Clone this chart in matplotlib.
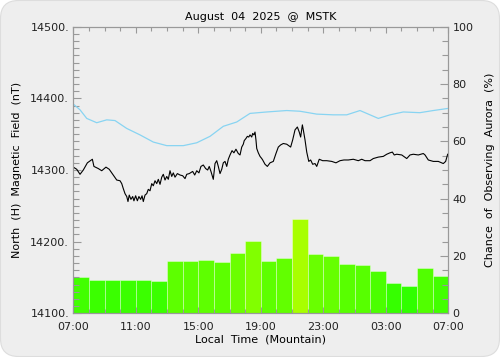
import numpy as np
import matplotlib
matplotlib.use("Agg")
import matplotlib.pyplot as plt
import matplotlib.patches as mpatches
from matplotlib.colors import LinearSegmentedColormap
from matplotlib.ticker import MultipleLocator

# hours since 07:00 local, and field in nT
h_time = [0.00, 0.22, 0.43, 0.64, 0.90, 1.22, 1.32, 1.60, 1.82, 2.09, 2.30, 2.52,
          2.78, 2.99, 3.10, 3.20, 3.31, 3.42, 3.50, 3.58, 3.69, 3.80, 3.88, 3.99,
          4.10, 4.20, 4.31, 4.40, 4.48, 4.59, 4.70, 4.80, 4.91, 5.02, 5.12, 5.23,
          5.34, 5.44, 5.55, 5.66, 5.76, 5.87, 5.98, 6.08, 6.19, 6.30, 6.40, 6.51,
          6.66, 6.83, 7.00, 7.15, 7.26, 7.42, 7.64, 7.77, 7.90, 8.04, 8.17, 8.32,
          8.47, 8.60, 8.70, 8.81, 8.96, 9.07, 9.18, 9.28, 9.39, 9.50, 9.60, 9.71,
          9.82, 9.92, 10.03, 10.16, 10.28, 10.41, 10.56, 10.67, 10.78, 10.88, 10.94,
          11.05, 11.14, 11.23, 11.31, 11.42, 11.48, 11.56, 11.63, 11.69, 11.74,
          11.84, 11.95, 12.06, 12.12,
          12.27, 12.42, 12.59, 12.80, 12.97, 13.12, 13.27, 13.44, 13.66, 13.91,
          14.04, 14.19, 14.34, 14.46, 14.55, 14.66, 14.72, 14.83, 14.94, 15.07,
          15.19, 15.32, 15.47, 15.58, 15.74, 15.96, 16.22, 16.54, 16.81, 17.07,
          17.32, 17.60, 17.92, 18.24, 18.46, 18.67, 18.99, 19.20, 19.52, 19.84,
          20.06, 20.27, 20.42, 20.54, 20.70, 21.02, 21.34, 21.55, 21.76, 22.08,
          22.40, 22.51, 22.72, 23.04, 23.36, 23.68, 23.83, 23.96]
h_field = [14304, 14301, 14294, 14300, 14310, 14315, 14305, 14302, 14299, 14304, 14301, 14294,
           14286, 14285, 14281, 14274, 14267, 14263, 14256, 14265, 14259, 14263, 14257, 14264,
           14257, 14263, 14259, 14264, 14256, 14265, 14267, 14273, 14271, 14281, 14278, 14285,
           14281, 14287, 14280, 14290, 14294, 14286, 14291, 14287, 14299, 14291, 14296, 14290,
           14295, 14293, 14292, 14288, 14294, 14295, 14298, 14293, 14299, 14296, 14305, 14307,
           14302, 14300, 14305, 14298, 14287, 14309, 14313, 14305, 14295, 14301, 14310, 14312,
           14305, 14315, 14321, 14327, 14324, 14329, 14323, 14321, 14332, 14336, 14341,
           14344, 14347, 14346, 14349, 14346, 14351, 14349, 14353, 14342, 14330,
           14324, 14319, 14316, 14314,
           14308, 14305, 14310, 14312, 14323, 14332, 14335, 14337, 14336, 14332,
           14342, 14356, 14360, 14353, 14346, 14363, 14356, 14342, 14325, 14312,
           14314, 14308, 14309, 14305, 14315, 14313, 14313, 14312, 14310, 14313,
           14314, 14314, 14315, 14313, 14315, 14313, 14313, 14316, 14318, 14319,
           14322, 14324, 14325, 14321, 14322, 14321, 14316, 14321, 14322, 14321,
           14323, 14321, 14314, 14312, 14312, 14309, 14312, 14322]

# smooth (cyan) reference curve
ref_time = [0.00, 0.43, 0.86, 1.50, 2.14, 2.67, 3.42, 4.27, 5.12, 5.98, 7.04, 7.90,
            8.75, 9.60, 10.46, 11.31, 12.38, 13.66, 14.51, 15.58, 16.64, 17.50,
            18.35, 18.99, 19.52, 20.27, 21.12, 22.18, 23.04, 24.00]
ref_field = [14392, 14384, 14372, 14366, 14370, 14369, 14358, 14349, 14339, 14334, 14334, 14338,
             14347, 14361, 14367, 14379, 14381, 14383, 14382, 14378, 14377, 14377,
             14383, 14377, 14372, 14377, 14381, 14380, 14383, 14386]

# hourly chance of aurora (%)
aurora_pct = [12.7, 11.7, 11.5, 11.7, 11.7, 11.4, 18.2, 18.2, 18.5, 18.0, 21.0, 25.3,
              18.2, 19.3, 32.9, 20.6, 20.0, 17.3, 17.0, 14.8, 10.7, 9.4, 15.9, 13.0]

tick_hours = [0, 4, 8, 12, 16, 20, 24]
tick_labels = ['07:00', '11:00', '15:00', '19:00', '23:00', '03:00', '07:00']

plt.rcParams['font.family'] = 'DejaVu Sans'
plt.rcParams['font.size'] = 8

fig = plt.figure(figsize=(5, 3.57), dpi=100)
fig.patch.set_facecolor('white')
bg = mpatches.FancyBboxPatch((0.5, 0.5), 499, 356, boxstyle="round,pad=0,rounding_size=18",
                             transform=None, facecolor='#eeeeee', edgecolor='#dddddd',
                             linewidth=0.8, zorder=-10)
fig.add_artist(bg)

ax = fig.add_axes([0.1466, 0.1224, 0.75, 0.8028])
ax2 = ax.twinx()
ax.set_zorder(ax2.get_zorder() + 1)
ax.patch.set_visible(False)
ax2.patch.set_visible(False)

cmap = LinearSegmentedColormap.from_list('aur', ['#00ff00', '#ffff00'])
hours = np.arange(len(aurora_pct))
ax2.bar(hours, aurora_pct, width=1.0, align='edge',
        color=[cmap(p / 50.0) for p in aurora_pct],
        edgecolor=(1, 1, 1, 0.35), linewidth=0.7)

ax.plot(ref_time, ref_field, color='#88d4f2', linewidth=0.9)
ax.plot(h_time, h_field, color='black', linewidth=0.8)

ax.set_xlim(0, 24)
ax.set_ylim(14100, 14500)
ax2.set_ylim(0, 100)

ax.set_xticks(tick_hours)
ax.set_xticklabels(tick_labels)
ax.xaxis.set_minor_locator(MultipleLocator(1))
ax.set_yticks([14100, 14200, 14300, 14400, 14500])
ax.set_yticklabels(['14100.', '14200.', '14300.', '14400.', '14500.'])
ax.yaxis.set_minor_locator(MultipleLocator(10))
ax2.set_yticks([0, 20, 40, 60, 80, 100])
ax2.yaxis.set_minor_locator(MultipleLocator(5))

ax.tick_params(axis='both', which='both', direction='in', colors='#999999',
               labelcolor='#222222', top=True, width=0.8)
ax.tick_params(axis='y', which='major', length=6, pad=3)
ax.tick_params(axis='y', which='minor', length=4)
ax.tick_params(axis='x', which='major', length=4, pad=6)
ax.tick_params(axis='x', which='minor', length=3)
ax.tick_params(axis='y', right=False)
ax2.tick_params(axis='y', which='both', direction='in', colors='#999999',
                labelcolor='#222222', width=0.8)
ax2.tick_params(axis='y', which='major', length=6, pad=3)
ax2.tick_params(axis='y', which='minor', length=4)

for a in (ax, ax2):
    for s in a.spines.values():
        s.set_color('#999999')
        s.set_linewidth(0.8)

ax.set_title('August  04  2025  @  MSTK', fontsize=8, pad=5)
ax.set_xlabel('Local  Time  (Mountain)', labelpad=2)
ax.set_ylabel('North  (H)  Magnetic  Field  (nT)', labelpad=6)
ax2.set_ylabel('Chance  of  Observing  Aurora  (%)', labelpad=8)

fig.savefig('out.png', dpi=100)
